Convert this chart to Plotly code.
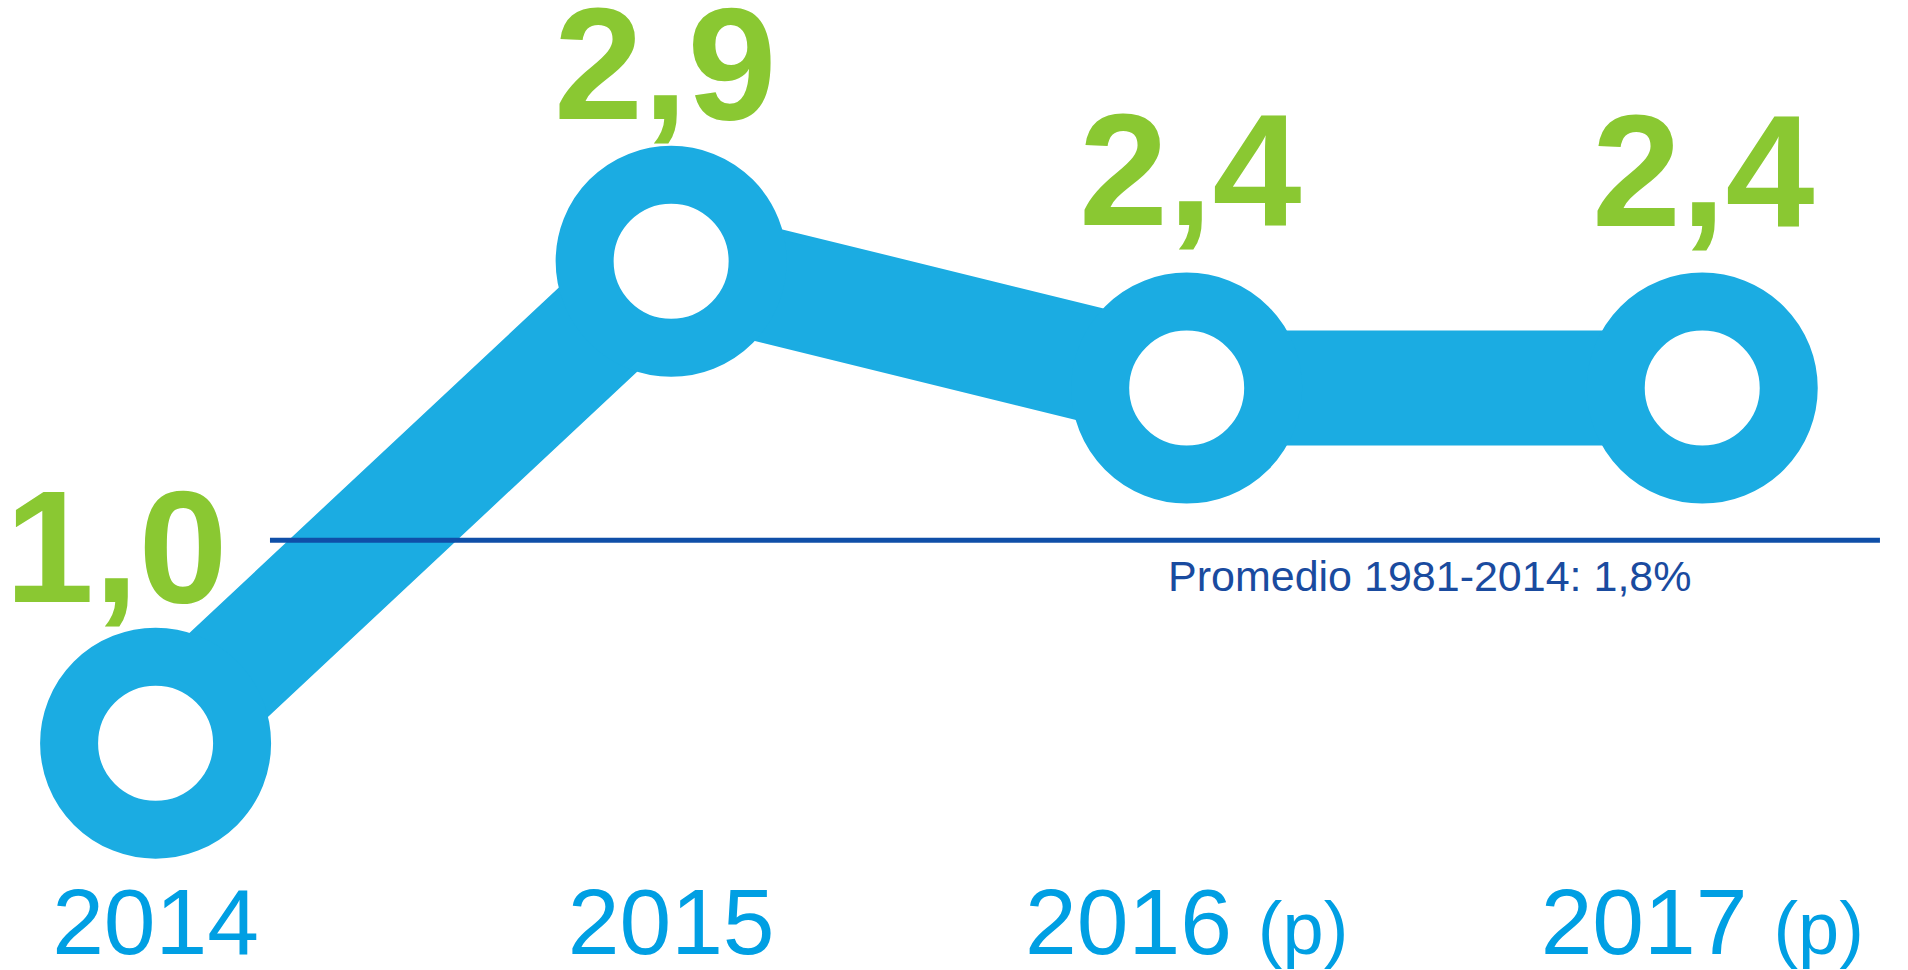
import plotly.graph_objects as go

# ---- data ----
years = ["2014", "2015", "2016", "2017"]
projected = [False, False, True, True]
growth = [1.0, 2.9, 2.4, 2.4]
average_value = 1.8
average_label = "Promedio 1981-2014: 1,8%"

# ---- styles / layout ----
BAND = "#1BACE2"
YEAR = "#009FE3"
GREEN = "#8AC832"
NAVY = "#0F4FA8"
FONT = "Arial, Liberation Sans, sans-serif"
label_xshift = [-40, -6, 3, 1]
label_yshift = [197, 198, 219, 218]

x_idx = list(range(len(years)))
ticktext = [
    y + (" <span style='font-size:74px'>(p)</span>" if p else "")
    for y, p in zip(years, projected)
]

fig = go.Figure()
fig.add_trace(go.Scatter(
    x=x_idx, y=growth, mode="lines+markers",
    line=dict(color=BAND, width=115),
    marker=dict(size=173, color="white", line=dict(color=BAND, width=58)),
    hoverinfo="skip", showlegend=False,
))

# average reference line
fig.add_shape(type="line", xref="paper", yref="y",
              x0=0.1415, x1=0.9853, y0=average_value, y1=average_value,
              line=dict(color=NAVY, width=5), layer="above")
fig.add_annotation(xref="paper", yref="y", x=0.7495, y=average_value,
                   text=average_label, showarrow=False, yanchor="top",
                   xanchor="center", yshift=-10,
                   font=dict(family=FONT, size=43, color="#1A4B9F"))

# value labels
for i, v in enumerate(growth):
    fig.add_annotation(x=x_idx[i], y=v, text=f"{v:.1f}".replace(".", ","),
                       showarrow=False, yanchor="middle", xanchor="center",
                       yshift=label_yshift[i], xshift=label_xshift[i],
                       font=dict(family=FONT, size=160, color=GREEN,
                                 weight="bold"))

fig.update_layout(
    width=1908, height=970,
    margin=dict(l=0, r=0, t=0, b=110, pad=0),
    paper_bgcolor="white", plot_bgcolor="white",
    xaxis=dict(range=[-0.3018, 3.3991], tickvals=x_idx, ticktext=ticktext,
               showgrid=False, zeroline=False, showline=False, ticks="",
               tickfont=dict(family=FONT, size=93, color=YEAR),
               automargin=False, fixedrange=True),
    yaxis=dict(range=[0.5396, 3.9300], visible=False, showgrid=False,
               zeroline=False, automargin=False, fixedrange=True),
    hovermode=False,
)

fig.write_html("out.html", config={"displayModeBar": False},
               post_script="document.body.style.margin='0';document.body.style.overflow='hidden';")
